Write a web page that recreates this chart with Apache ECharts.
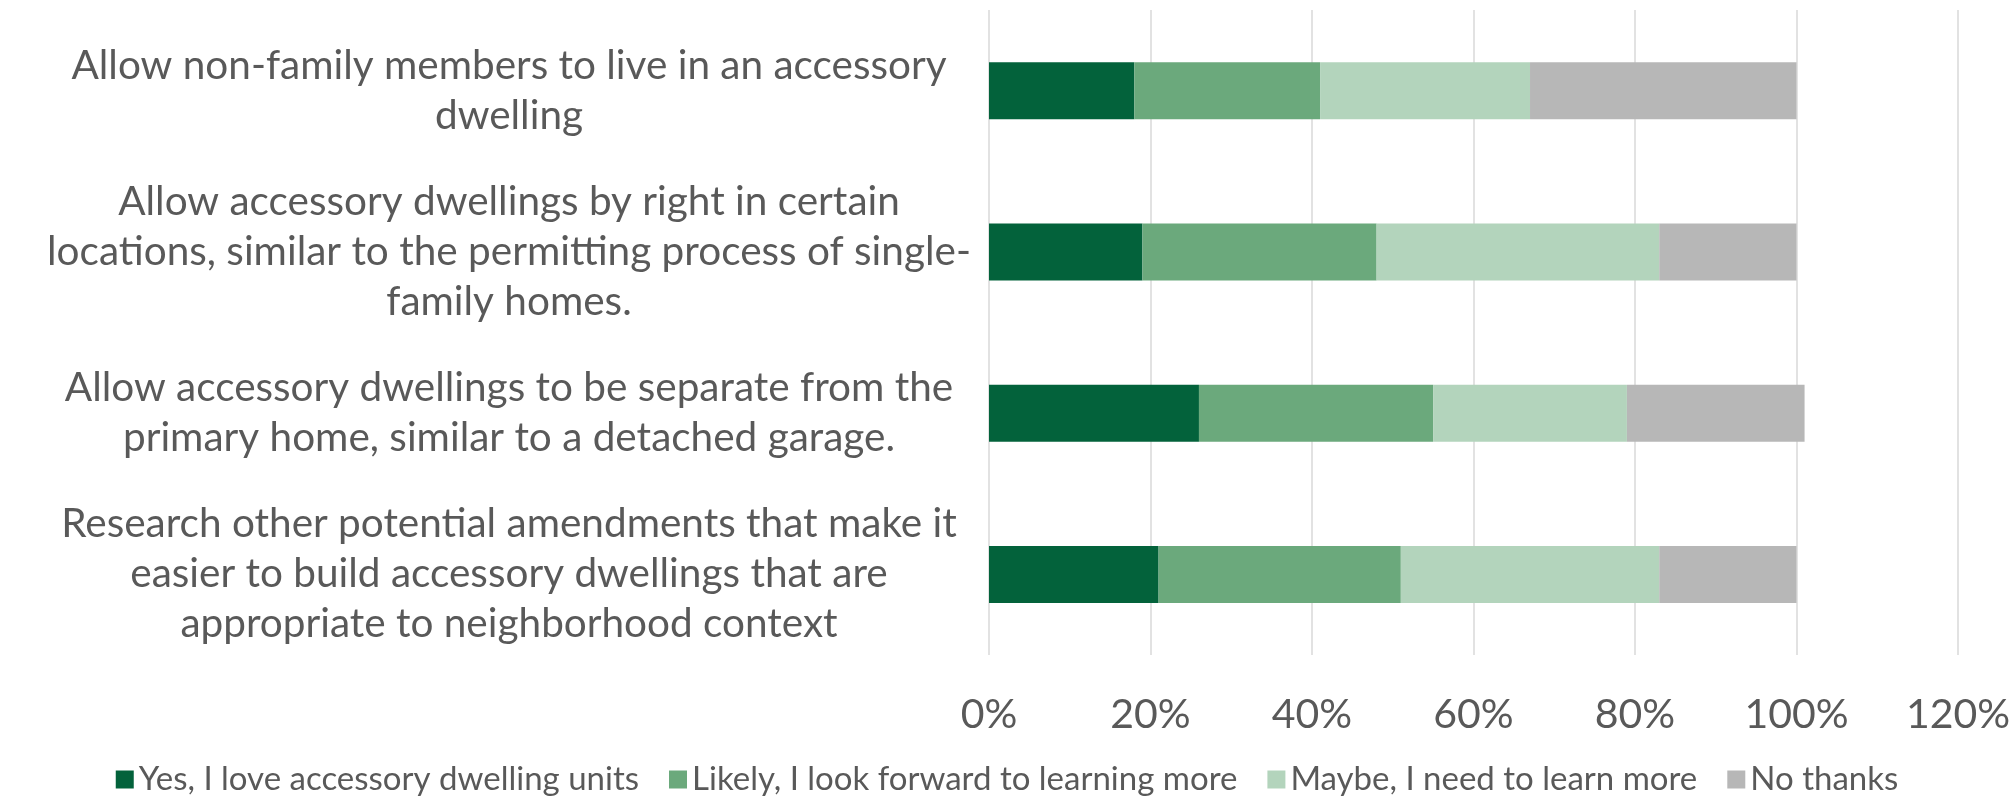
<!DOCTYPE html>
<html>
<head>
<meta charset="utf-8">
<script src="https://cdn.jsdelivr.net/npm/echarts@6/dist/echarts.min.js"></script>
<style>
  html, body { margin: 0; padding: 0; background: #ffffff; }
  #chart { width: 2014px; height: 796px; }
</style>
</head>
<body>
<div id="chart"></div>
<script>
// Survey proposals (top to bottom) and the share of answers for each response
const proposals = [
  'Allow non-family members to live in an accessory\ndwelling',
  'Allow accessory dwellings by right in certain\nlocations, similar to the permitting process of single-\nfamily homes.',
  'Allow accessory dwellings to be separate from the\nprimary home, similar to a detached garage.',
  'Research other potential amendments that make it\neasier to build accessory dwellings that are\nappropriate to neighborhood context'
];
const responseNames = [
  'Yes, I love accessory dwelling units',
  'Likely, I look forward to learning more',
  'Maybe, I need to learn more',
  'No thanks'
];
const yesValues    = [0.18, 0.19, 0.26, 0.21];
const likelyValues = [0.23, 0.29, 0.29, 0.30];
const maybeValues  = [0.26, 0.35, 0.24, 0.32];
const noValues     = [0.33, 0.17, 0.22, 0.17];
const responseColors = ['#03623B', '#6BA97C', '#B3D4BC', '#B7B7B7'];

const FONT = 'Lato, "Open Sans", sans-serif';
const TEXT = '#595959';

const valueSets = [yesValues, likelyValues, maybeValues, noValues];
const series = responseNames.map((name, i) => ({
  name: name,
  type: 'bar',
  stack: 'total',
  barWidth: 57,
  itemStyle: { color: responseColors[i] },
  data: valueSets[i]
}));

const chart = echarts.init(document.getElementById('chart'), null, { renderer: 'canvas' });
chart.setOption({
  backgroundColor: '#ffffff',
  animation: false,
  textStyle: { fontFamily: FONT },
  grid: { left: 989, right: 56, top: 10, bottom: 141, containLabel: false },
  xAxis: {
    type: 'value',
    min: 0,
    max: 1.2,
    interval: 0.2,
    axisLine: { show: false },
    axisTick: { show: false },
    splitLine: { show: true, lineStyle: { color: '#D9D9D9', width: 1.5 } },
    axisLabel: {
      margin: 39,
      color: TEXT,
      fontFamily: FONT,
      fontSize: 41,
      formatter: v => Math.round(v * 100) + '%'
    }
  },
  yAxis: {
    type: 'category',
    inverse: true,
    data: proposals,
    axisLine: { show: false },
    axisTick: { show: false },
    axisLabel: {
      margin: 480,
      align: 'center',
      color: TEXT,
      fontFamily: FONT,
      fontSize: 40.5,
      lineHeight: 50
    }
  },
  legend: {
    top: 758,
    left: 'center',
    itemWidth: 18,
    itemHeight: 18,
    itemGap: 30,
    icon: 'rect',
    textStyle: { color: TEXT, fontFamily: FONT, fontSize: 33 },
    data: responseNames
  },
  series: series
});
</script>
</body>
</html>
